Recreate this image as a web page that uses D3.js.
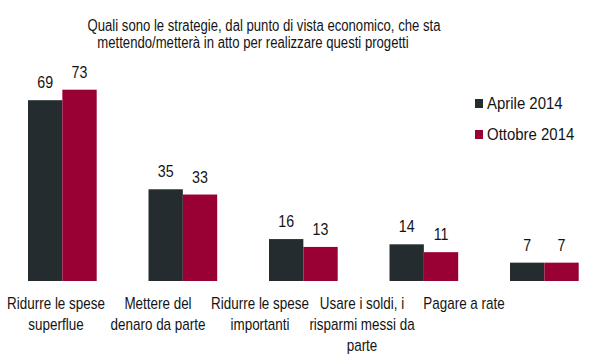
<!DOCTYPE html>
<html>
<head>
<meta charset="utf-8">
<script src="https://cdn.jsdelivr.net/npm/d3@7"></script>
<style>
  html, body { margin: 0; padding: 0; background: #fff; }
  svg { display: block; }
  text { font-family: "Liberation Sans", Arial, sans-serif; fill: #141414; }
</style>
</head>
<body>
<svg id="chart" width="600" height="360"></svg>
<script>
const titleLines = [
  "Quali sono le strategie, dal punto di vista economico, che sta",
  "mettendo/metterà in atto per realizzare questi progetti"
];
const categories = [
  "Ridurre le spese superflue",
  "Mettere del denaro da parte",
  "Ridurre le spese importanti",
  "Usare i soldi, i risparmi messi da parte",
  "Pagare a rate"
];
const categoryLines = [
  ["Ridurre le spese", "superflue"],
  ["Mettere del", "denaro da parte"],
  ["Ridurre le spese", "importanti"],
  ["Usare i soldi, i", "risparmi messi da", "parte"],
  ["Pagare a rate"]
];
const seriesNames = ["Aprile 2014", "Ottobre 2014"];
const aprile = [69, 35, 16, 14, 7];
const ottobre = [73, 33, 13, 11, 7];
const colors = ["#252c30", "#990033"];

const svg = d3.select("#chart");

// Title (condensed look via horizontal scaling)
svg.append("g").selectAll("text")
  .data(titleLines)
  .join("text")
  .attr("transform", (d, i) => `translate(${i === 0 ? 264 : 253},${31 + i * 17}) scale(0.82,1)`)
  .attr("text-anchor", "middle")
  .attr("font-size", 16)
  .text(d => d);

const x = d3.scaleBand().domain(categories).range([28, 578.7]).paddingInner(0.43).paddingOuter(0);
const xs = d3.scaleBand().domain(seriesNames).range([0, x.bandwidth()]).padding(0);
const y = d3.scaleLinear().domain([0, 73]).range([281, 89.7]);
const xl = d3.scalePoint().domain(categories).range([56, 464]);

const table = categories.map((c, i) => ({
  cat: c,
  values: [
    { series: seriesNames[0], value: aprile[i] },
    { series: seriesNames[1], value: ottobre[i] }
  ]
}));

const groups = svg.append("g").selectAll("g")
  .data(table)
  .join("g")
  .attr("transform", d => `translate(${x(d.cat)},0)`);

groups.selectAll("rect")
  .data(d => d.values)
  .join("rect")
  .attr("x", d => xs(d.series))
  .attr("width", xs.bandwidth())
  .attr("y", d => y(d.value))
  .attr("height", d => y(0) - y(d.value))
  .attr("fill", (d, i) => colors[i]);

groups.selectAll("text.val")
  .data(d => d.values)
  .join("text")
  .attr("class", "val")
  .attr("transform", d => `translate(${xs(d.series) + xs.bandwidth() / 2},${y(d.value) - 12}) scale(0.89,1)`)
  .attr("text-anchor", "middle")
  .attr("font-size", 16)
  .text(d => d.value);

// Category labels
const labels = svg.append("g").selectAll("text")
  .data(categories)
  .join("text")
  .attr("transform", c => `translate(${xl(c)},0) scale(0.84,1)`)
  .attr("text-anchor", "middle")
  .attr("font-size", 16);
labels.each(function(c, i) {
  d3.select(this).selectAll("tspan")
    .data(categoryLines[i])
    .join("tspan")
    .attr("x", 0)
    .attr("y", (d, j) => 309 + j * 21)
    .text(d => d);
});

// Legend
const legend = svg.append("g").selectAll("g")
  .data(seriesNames)
  .join("g")
  .attr("transform", (d, i) => `translate(475,${99 + i * 31})`);
legend.append("rect")
  .attr("width", 8).attr("height", 9)
  .attr("fill", (d, i) => colors[i]);
legend.append("text")
  .attr("transform", "translate(12,10) scale(0.88,1)")
  .attr("font-size", 17)
  .text(d => d);
</script>
</body>
</html>
